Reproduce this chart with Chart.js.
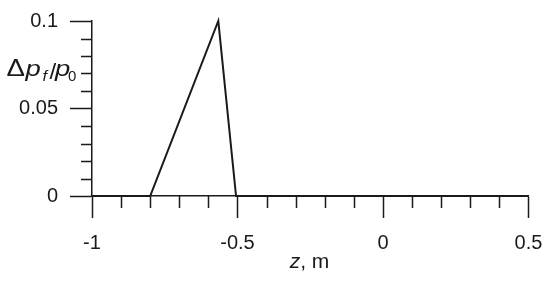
<!DOCTYPE html>
<html>
<head>
<meta charset="utf-8">
<script src="https://cdn.jsdelivr.net/npm/chart.js@4.4.0/dist/chart.umd.min.js"></script>
<style>
  body { margin: 0; background: #fff; }
  #wrap { position: relative; width: 550px; height: 281px; }
</style>
</head>
<body>
<div id="wrap"><canvas id="c"></canvas></div>
<script>
// z, m
var zVals = [-1, -0.8, -0.566, -0.505, 0.5];
// dp_f / p_0
var dpVals = [0, 0, 0.1, 0, 0];
var xTicks = [-1, -0.5, 0, 0.5];
var yTicks = [0, 0.05, 0.1];

var ink = '#1a1a1a';
var font = 'Liberation Sans, Arial, sans-serif';

function wideText(c, txt, f, x, y, sx) {
  c.save();
  c.font = f;
  c.translate(x, y);
  c.scale(sx, 1);
  c.fillText(txt, 0, 0);
  c.restore();
}

// minor ticks + axis titles with italics/subscripts
var extras = {
  id: 'extras',
  afterDraw: function(chart) {
    var c = chart.ctx, xs = chart.scales.x, ys = chart.scales.y;
    var x0 = xs.getPixelForValue(-1), y0 = ys.getPixelForValue(0);
    c.save();
    c.strokeStyle = ink;
    c.lineWidth = 1.5;
    c.beginPath();
    for (var i = 1; i < 10; i++) {
      if (i === 5) continue;
      var py = Math.round(ys.getPixelForValue(i / 100)) + 0.5;
      c.moveTo(x0 - 11, py); c.lineTo(x0, py);
    }
    for (var j = -9; j < 5; j++) {
      if (j === -5 || j === 0) continue;
      var px = Math.round(xs.getPixelForValue(j / 10)) + 0.5;
      c.moveTo(px, y0); c.lineTo(px, y0 + 12);
    }
    c.stroke();

    c.fillStyle = ink;
    c.textBaseline = 'alphabetic';
    // y title
    var ty = 75.7;
    wideText(c, '\u0394', '23px ' + font, 6.5, ty, 1.2);
    wideText(c, 'p', 'italic 22px ' + font, 25.5, ty, 1.25);
    wideText(c, 'f', 'italic 15px ' + font, 42.5, ty + 5.5, 1.1);
    wideText(c, '/', '22px ' + font, 49.5, ty + 3, 1.1);
    wideText(c, 'p', 'italic 22px ' + font, 55, ty, 1.25);
    wideText(c, '0', '15px ' + font, 68, ty + 5.5, 1);

    // x title
    c.font = 'italic 21px ' + font;
    var w1 = c.measureText('z').width;
    c.font = '21px ' + font;
    var w2 = c.measureText(', m').width;
    var sx = 309.5 - (w1 + w2) / 2, sy = 267.5;
    c.font = 'italic 21px ' + font;
    c.fillText('z', sx, sy);
    c.font = '21px ' + font;
    c.fillText(', m', sx + w1, sy);
    c.restore();
  }
};

function noPad(s) {
  s.paddingTop = 0; s.paddingBottom = 0;
  s.paddingLeft = 0; s.paddingRight = 0;
}

new Chart(document.getElementById('c'), {
  type: 'line',
  data: {
    datasets: [{
      data: zVals.map(function(z, i) { return { x: z, y: dpVals[i] }; }),
      borderColor: ink,
      borderWidth: 2,
      pointRadius: 0,
      tension: 0,
      clip: false
    }]
  },
  options: {
    responsive: true,
    maintainAspectRatio: false,
    animation: false,
    layout: { padding: { top: 21, right: 21.5, left: 0, bottom: 0 } },
    plugins: { legend: { display: false }, tooltip: { enabled: false } },
    scales: {
      x: {
        type: 'linear',
        min: -1, max: 0.5,
        afterFit: function(s) { s.height = 85; noPad(s); },
        afterBuildTicks: function(s) { s.ticks = xTicks.map(function(v) { return { value: v }; }); },
        grid: { drawOnChartArea: false, drawTicks: true, tickLength: 22, tickWidth: 1.5, tickColor: ink },
        border: { display: true, color: ink, width: 1.5 },
        ticks: {
          color: ink, padding: 13, maxRotation: 0,
          font: { family: font, size: 20 },
          callback: function(v) { return String(v); }
        }
      },
      y: {
        min: 0, max: 0.1,
        afterFit: function(s) { s.width = 92; noPad(s); },
        afterBuildTicks: function(s) { s.ticks = yTicks.map(function(v) { return { value: v }; }); },
        grid: { drawOnChartArea: false, drawTicks: true, tickLength: 22, tickWidth: 1.5, tickColor: ink },
        border: { display: true, color: ink, width: 1.5 },
        ticks: {
          color: ink, padding: 12,
          font: { family: font, size: 20 },
          callback: function(v) { return String(v); }
        }
      }
    }
  },
  plugins: [extras]
});
</script>
</body>
</html>
